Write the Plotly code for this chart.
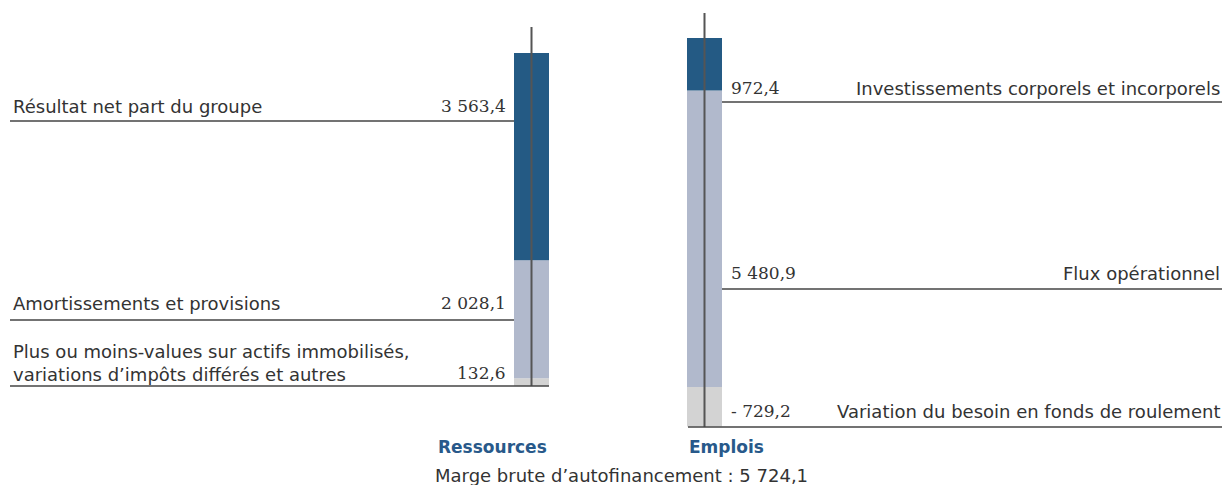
import plotly.graph_objects as go

# ---------------- data ----------------
categories = ["Ressources", "Emplois"]
res_labels = [
    "Résultat net part du groupe",
    "Amortissements et provisions",
    "Plus ou moins-values sur actifs immobilisés,<br>variations d’impôts différés et autres",
]
res_values = [3563.4, 2028.1, 132.6]
emp_labels = [
    "Investissements corporels et incorporels",
    "Flux opérationnel",
    "Variation du besoin en fonds de roulement",
]
emp_values = [972.4, 5480.9, -729.2]
total_label = "Marge brute d’autofinancement"
total_value = 5724.1

# ---------------- style ----------------
W, H = 1225, 485
seg_colors = ["#245a84", "#b1b9cc", "#d3d3d3"]
title_color = "#28598a"
text_color = "#333333"
line_color = "#555555"
SANS = "DejaVu Sans"
SERIF = "DejaVu Serif"
SANS_SIZE = 18
SERIF_SIZE = 17


def fr(v):
    s = f"{abs(v):,.1f}".replace(",", " ").replace(".", ",")
    return ("- " + s) if v < 0 else s


def py(p):
    return 1 - p / H


def px(p):
    return p / W


# pixel anchors of the layout
res_base_px, res_top_px = 386, 53
emp_base_px, emp_top_px = 387, 38
k1 = (res_base_px - res_top_px) / sum(res_values)
emp_pos_total = sum(v for v in emp_values if v > 0)
k2 = (emp_base_px - emp_top_px) / emp_pos_total
y1_range = [-(H - res_base_px) / k1, res_base_px / k1]
y2_range = [-(H - emp_base_px) / k2, emp_base_px / k2]

c0, c1 = 531.5, 704.5
unit = c1 - c0
x_range = [-c0 / unit, (W - c0) / unit]
bar_w = 35 / unit

fig = go.Figure()
# Ressources: stack bottom -> top
for i in [2, 1, 0]:
    fig.add_trace(go.Bar(x=[categories[0]], y=[res_values[i]], width=bar_w,
                         marker=dict(color=seg_colors[i], line=dict(width=0)),
                         yaxis="y", hoverinfo="skip"))
# Emplois: positives bottom -> top, negative below zero
for i in [1, 0, 2]:
    fig.add_trace(go.Bar(x=[categories[1]], y=[emp_values[i]], width=bar_w,
                         marker=dict(color=seg_colors[i], line=dict(width=0)),
                         yaxis="y2", hoverinfo="skip"))

shapes = []
# vertical lines through the bars
shapes.append(dict(type="line", xref="x", yref="paper", x0=categories[0], x1=categories[0],
                   y0=py(27), y1=py(386), line=dict(color=line_color, width=2), layer="above"))
shapes.append(dict(type="line", xref="x", yref="paper", x0=categories[1], x1=categories[1],
                   y0=py(13), y1=py(427), line=dict(color=line_color, width=2), layer="above"))
# underlines
for (xa, xb, yy) in [(10, 514, 121), (10, 514, 320), (10, 549, 386),
                     (722, 1222, 102), (722, 1222, 289), (688, 1222, 427)]:
    shapes.append(dict(type="line", xref="paper", yref="paper", x0=px(xa), x1=px(xb),
                       y0=py(yy), y1=py(yy), line=dict(color="#444444", width=1.3)))

ann = []


def add_text(text, x, y, anchor, font, size, color=text_color, bold=False, align="left"):
    ann.append(dict(text=f"<b>{text}</b>" if bold else text, x=px(x), y=py(y),
                    xref="paper", yref="paper", xanchor=anchor, yanchor="middle",
                    showarrow=False, align=align,
                    font=dict(family=font, size=size, color=color)))


res_label_y = [106, 303, 362.5]
res_num_y = [106, 303, 373]
for lab, v, ly, ny in zip(res_labels, res_values, res_label_y, res_num_y):
    add_text(lab, 11, ly, "left", SANS, SANS_SIZE)
    add_text(fr(v), 508, ny, "right", SERIF, SERIF_SIZE)

emp_y = [88, 273, 411]
for lab, v, yy in zip(emp_labels, emp_values, emp_y):
    add_text(fr(v), 729, yy, "left", SERIF, SERIF_SIZE)
    add_text(lab, 1222, yy, "right", SANS, SANS_SIZE)

add_text(categories[0], 549, 447, "right", SANS, 17, color=title_color, bold=True)
add_text(categories[1], 687, 447, "left", SANS, 17, color=title_color, bold=True)
ann.append(dict(text=f"{total_label} : {fr(total_value)}", x=px(621), y=py(475),
                xref="paper", yref="paper", xanchor="center", yanchor="middle",
                showarrow=False, font=dict(family=SANS, size=SANS_SIZE, color=text_color)))

fig.update_layout(
    width=W, height=H, margin=dict(l=0, r=0, t=0, b=0),
    paper_bgcolor="white", plot_bgcolor="white",
    barmode="relative", showlegend=False,
    xaxis=dict(type="category", categoryarray=categories, range=x_range,
               visible=False, fixedrange=True),
    yaxis=dict(range=y1_range, visible=False, fixedrange=True),
    yaxis2=dict(range=y2_range, visible=False, overlaying="y", fixedrange=True),
    shapes=shapes, annotations=ann,
)

fig.write_html("out.html", config={"displayModeBar": False},
               post_script="document.body.style.margin='0';document.body.style.overflow='hidden';")
